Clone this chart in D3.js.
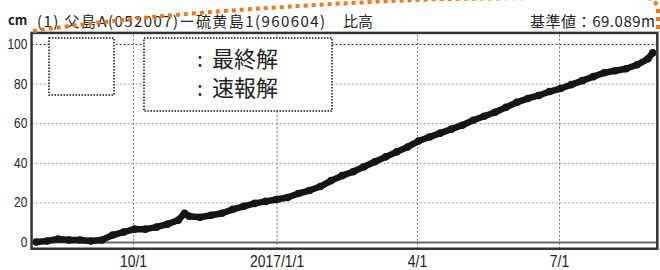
<!DOCTYPE html>
<html>
<head>
<meta charset="utf-8">
<script src="https://cdn.jsdelivr.net/npm/d3@7"></script>
<style>
	body { margin: 0; background: #fff; }
	svg { display: block; }
	.cjk { font-family: "Noto Sans CJK JP", "Noto Sans", sans-serif; fill: #222; }
	.tick text { font-family: "Liberation Sans Narrow", "Liberation Sans", Arial, sans-serif; fill: #222; }
</style>
</head>
<body>
<div id="chart"></div>
<script>
var width = 660;
var height = 270;

// baseline change (cm), every week or so
var dates = [
	"2016-07-31", "2016-08-07", "2016-08-14", "2016-08-21", "2016-08-28", "2016-09-04",
	"2016-09-11", "2016-09-18", "2016-09-25", "2016-10-02", "2016-10-09", "2016-10-16",
	"2016-10-23", "2016-10-30", "2016-11-03", "2016-11-06", "2016-11-13", "2016-11-20",
	"2016-11-27", "2016-12-04", "2016-12-11", "2016-12-18", "2016-12-25", "2017-01-01",
	"2017-01-08", "2017-01-15", "2017-01-22", "2017-01-29", "2017-02-05", "2017-02-12",
	"2017-02-19", "2017-02-26", "2017-03-05", "2017-03-12", "2017-03-19", "2017-03-26",
	"2017-04-02", "2017-04-09", "2017-04-16", "2017-04-23", "2017-04-30", "2017-05-07",
	"2017-05-14", "2017-05-21", "2017-05-28", "2017-06-04", "2017-06-11", "2017-06-18",
	"2017-06-25", "2017-07-02", "2017-07-09", "2017-07-16", "2017-07-23", "2017-07-30",
	"2017-08-06", "2017-08-13", "2017-08-20", "2017-08-27", "2017-08-30"
];
var values = [
	0, 0.5, 1.5, 1, 1, 0.5,
	1, 3.5, 5, 6.5, 6.5, 7.5,
	9, 11, 14.5, 13, 12.5, 13.5,
	14.5, 16.5, 18, 19.5, 20.5, 21.5,
	22.5, 24.5, 26, 28, 31, 33.5,
	35.5, 38, 40.5, 43, 45.5, 48,
	51, 53, 55, 57, 59, 61.5,
	63.5, 65.5, 68, 70.5, 72.5, 74,
	76, 77.5, 79.5, 81.5, 83.5, 85.5,
	86.5, 87.5, 89.5, 92.5, 95.5
];

var xTickDates = ["2016-10-01", "2017-01-01", "2017-04-01", "2017-07-01"];
var xTickLabels = ["10/1", "2017/1/1", "4/1", "7/1"];
var yTicks = [0, 20, 40, 60, 80, 100];
var legendLabels = ["最終解", "速報解"];

var parse = d3.timeParse("%Y-%m-%d");
var points = dates.map(function(d, i) { return { date: parse(d), value: values[i] }; });

var svg = d3.select("#chart")
	.append("svg")
	.attr("width", width)
	.attr("height", height);

// scales: 10/1 sits at 133px, 7/1 at 559px
var x = d3.scaleTime()
	.domain([parse("2016-10-01"), parse("2017-07-01")])
	.range([133, 559]);
var y = d3.scaleLinear()
	.domain([0, 100])
	.range([242, 44]);

var plotLeft = x(parse("2016-07-28")),
	plotRight = x(parse("2017-09-02")),
	plotTop = y(105.6),
	plotBottom = y(-3.4);

svg.append("clipPath")
	.attr("id", "plot")
	.append("rect")
	.attr("x", plotLeft)
	.attr("y", plotTop)
	.attr("width", plotRight - plotLeft)
	.attr("height", plotBottom - plotTop);

// grid lines
var yAxis = d3.axisLeft(y)
	.tickValues(yTicks)
	.tickSize(-(plotRight - plotLeft))
	.tickPadding(5)
	.tickFormat(d3.format("d"));
var gy = svg.append("g")
	.attr("transform", "translate(" + plotLeft + ",0)")
	.call(yAxis);
gy.select(".domain").remove();
gy.selectAll(".tick line")
	.attr("stroke-dasharray", function(d) { return d == 0 ? null : "2,2"; })
	.attr("stroke-width", function(d) { return d == 0 ? 2 : 1; })
	.attr("stroke", function(d) { return d == 0 ? "#666" : (d == 100 ? "#444" : "#999"); });
gy.selectAll(".tick text")
	.attr("font-size", "14px")
	.attr("transform", "scale(0.85,1)");

var xAxis = d3.axisBottom(x)
	.tickValues(xTickDates.map(parse))
	.tickSize(-(plotBottom - plotTop))
	.tickPadding(6)
	.tickFormat(function(d, i) { return xTickLabels[i]; });
var gx = svg.append("g")
	.attr("transform", "translate(0," + plotBottom + ")")
	.call(xAxis);
gx.select(".domain").remove();
gx.selectAll(".tick line")
	.attr("stroke", "#777")
	.attr("stroke-dasharray", "2,2");
gx.selectAll(".tick text")
	.attr("font-size", "17px")
	.attr("transform", "scale(0.82,1)");

// series
var line = d3.line()
	.x(function(d) { return x(d.date); })
	.y(function(d) { return y(d.value); });

var series = svg.append("g")
	.attr("clip-path", "url(#plot)");
series.append("path")
	.datum(points)
	.attr("d", line)
	.attr("fill", "none")
	.attr("stroke", "#151515")
	.attr("stroke-width", 6.5)
	.attr("stroke-linejoin", "round")
	.attr("stroke-linecap", "round");
series.selectAll(".dot")
	.data(points)
	.enter()
	.append("circle")
	.attr("class", "dot")
	.attr("cx", function(d) { return x(d.date); })
	.attr("cy", function(d) { return y(d.value); })
	.attr("r", 3.8)
	.attr("fill", "#151515");

// frame
svg.append("rect")
	.attr("x", plotLeft)
	.attr("y", plotTop)
	.attr("width", plotRight - plotLeft)
	.attr("height", plotBottom - plotTop)
	.attr("fill", "none")
	.attr("stroke", "#333")
	.attr("stroke-width", 2.5);

// legend boxes (markers are empty in the picture)
svg.append("rect")
	.attr("x", 49).attr("y", 38)
	.attr("width", 65).attr("height", 57)
	.attr("fill", "#fff")
	.attr("stroke", "#111")
	.attr("stroke-width", 1.5)
	.attr("stroke-dasharray", "1.5,1.5");
svg.append("rect")
	.attr("x", 144).attr("y", 38)
	.attr("width", 188).attr("height", 73)
	.attr("fill", "#fff")
	.attr("stroke", "#111")
	.attr("stroke-width", 1.5)
	.attr("stroke-dasharray", "1.5,1.5");

var legend = svg.selectAll(".legend")
	.data(legendLabels)
	.enter()
	.append("g")
	.attr("class", "legend")
	.attr("transform", function(d, i) { return "translate(0," + (67 + i * 29) + ")"; });
legend.append("text")
	.attr("class", "cjk")
	.attr("x", 200)
	.attr("text-anchor", "middle")
	.attr("font-size", "21px")
	.text(":");
legend.append("text")
	.attr("class", "cjk")
	.attr("x", 212)
	.attr("font-size", "22px")
	.text(function(d) { return d; });

// header texts
svg.append("text")
	.attr("class", "cjk")
	.attr("x", 8).attr("y", 25)
	.attr("font-size", "13px")
	.attr("font-weight", "bold")
	.text("cm");
svg.append("text")
	.attr("class", "cjk")
	.attr("x", 37).attr("y", 27)
	.attr("font-size", "15px")
	.attr("textLength", 288)
	.attr("lengthAdjust", "spacing")
	.text("(1) 父島A(052007)ー硫黄島1(960604)");
svg.append("text")
	.attr("class", "cjk")
	.attr("x", 343).attr("y", 27)
	.attr("font-size", "15px")
	.text("比高");
svg.append("text")
	.attr("class", "cjk")
	.attr("x", 655).attr("y", 27)
	.attr("text-anchor", "end")
	.attr("font-size", "15px")
	.attr("textLength", 125)
	.attr("lengthAdjust", "spacing")
	.text("基準値：69.089m");

// orange dotted callout outline over the top edge
svg.append("path")
	.attr("d", "M33,31 C120,18 260,6 440,-1 L640,-3 Q658,-3 658,12 L658,30")
	.attr("fill", "none")
	.attr("stroke", "#EE7A1E")
	.attr("stroke-width", 4)
	.attr("stroke-dasharray", "4,4");
</script>
</body>
</html>
